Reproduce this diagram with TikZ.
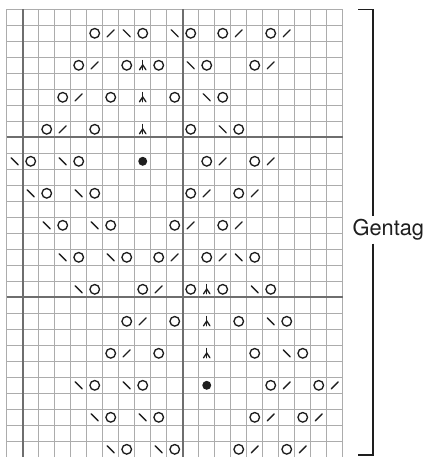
\documentclass[tikz,border=0pt]{standalone}
\usepackage{fontspec}
\setmainfont{TeX Gyre Heros}
\usetikzlibrary{positioning}
\definecolor{GridGray}{HTML}{ACACAC}
\definecolor{RuleGray}{HTML}{6E6E6E}
\definecolor{InkBlack}{HTML}{1E1E1E}

\begin{document}
\begin{tikzpicture}[x=4mm,y=-4mm,
      cell/.style={GridGray,line width=0.4pt},
      rule/.style={RuleGray,line width=1.4pt},
      yo/.style={InkBlack,line width=0.95pt},
      dec/.style={InkBlack,line width=0.95pt,line cap=round},
      bobble/.style={InkBlack,fill=InkBlack},
      brk/.style={InkBlack,line width=1pt}]
    \useasboundingbox (-0.42,-0.58) rectangle (26.39,27.98);
    \foreach \c in {0,...,21} \draw[cell] (\c,0) -- (\c,28);
    \foreach \r in {0,...,28} \draw[cell] (0,\r) -- (21,\r);
    \draw[rule] (1,0) -- (1,28);
    \draw[rule] (11,0) -- (11,28);
    \draw[rule] (0,8) -- (21,8);
    \draw[rule] (0,18) -- (21,18);
    \foreach \c/\r in {6/2,9/2,12/2,14/2,17/2, 5/4,8/4,10/4,13/4,16/4,
        4/6,7/6,11/6,14/6, 3/8,6/8,12/8,15/8, 2/10,5/10,13/10,16/10,
        3/12,6/12,12/12,15/12, 4/14,7/14,11/14,14/14,
        5/16,8/16,10/16,13/16,16/16, 6/18,9/18,12/18,14/18,17/18,
        8/20,11/20,15/20,18/20, 7/22,10/22,16/22,19/22,
        6/24,9/24,17/24,20/24, 7/26,10/26,16/26,19/26, 8/28,11/28,15/28,18/28}
      \draw[yo] (\c-0.5,\r-0.5) circle (0.3);
    \foreach \c/\r in {7/2,15/2,18/2, 6/4,17/4, 5/6, 4/8, 14/10,17/10,
        13/12,16/12, 12/14,15/14, 11/16,14/16, 10/18, 9/20, 8/22,
        18/24,21/24, 17/26,20/26, 16/28,19/28}
      \draw[dec] (\c-0.72,\r-0.28) -- (\c-0.28,\r-0.72);
    \foreach \c/\r in {8/2,11/2, 12/4, 13/6, 14/8, 1/10,4/10, 2/12,5/12,
        3/14,6/14, 4/16,7/16,15/16, 5/18,16/18, 17/20, 18/22,
        5/24,8/24, 6/26,9/26, 7/28,10/28}
      \draw[dec] (\c-0.72,\r-0.72) -- (\c-0.28,\r-0.28);
    \foreach \c/\r in {9/4,9/6,9/8,13/18,13/20,13/22} {
      \draw[dec] (\c-0.5,\r-0.8) -- (\c-0.5,\r-0.22);
      \draw[dec] (\c-0.7,\r-0.22) -- (\c-0.5,\r-0.52) -- (\c-0.3,\r-0.22);
    }
    \foreach \c/\r in {9/10,13/24}
      \fill[bobble] (\c-0.5,\r-0.5) circle (0.28);
    \coordinate (btop) at (22.9,0);
    \coordinate (bbot) at (22.9,27.86);
    \node[font=\fontsize{15.5}{18}\selectfont,text=InkBlack,inner sep=2pt] (gentag) at (23.85,13.8) {Gentag};
    \draw[brk] (21.96,0) -- (btop) -- (btop |- gentag.north);
    \draw[brk] (btop |- gentag.south) -- (bbot) -- (21.96,27.86);
  \end{tikzpicture}
\end{document}
